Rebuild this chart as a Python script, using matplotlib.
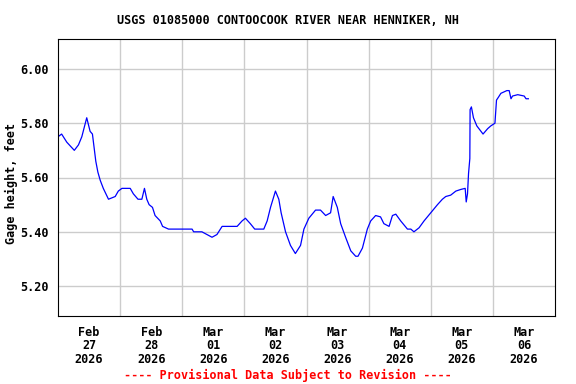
import matplotlib
matplotlib.use('Agg')
import matplotlib.pyplot as plt
from datetime import datetime, timedelta

# hours since Feb 27 2026 00:00 and gage height (ft)
hours = [0, 1.4, 3.4, 6.3, 7.9, 9.2, 11.1, 12.4, 13.3, 14.6, 15.4, 16.3, 17.5,
         19.5, 22.1, 23.3, 24.7, 27.9, 29.1, 30.9, 32.4, 33.4, 34.3, 35.2, 36.5,
         37.5, 39.5, 40.4, 42.7, 51.8, 52.4, 55.6, 59.5, 61.4, 63.4, 65.9, 69.2,
         71.1, 72.4, 74.3, 76.0, 79.5, 80.8, 82.1, 84.0, 85.3, 86.2, 87.9, 89.8,
         91.7, 93.7, 95.0, 96.9, 99.5, 101.4, 103.4, 105.3, 106.3, 107.9, 109.2,
         111.1, 113.1, 115.0, 115.9, 117.6, 119.5, 120.8, 122.7, 124.6, 125.9,
         127.9, 129.2, 130.5, 132.4, 135.0, 136.3, 137.5, 139.5, 141.4, 144.0,
         146.6, 148.5, 149.8, 151.7, 153.7, 155.6, 157.3, 157.7, 158.2, 158.6,
         159.1, 159.2, 159.7, 160.5, 161.8, 163.4, 164.2, 166.0, 167.2, 168.8,
         169.4, 170.1, 171.1, 173.4, 174.3, 175.0, 175.6, 177.6, 180.1, 180.8,
         181.7]
gage = [5.75, 5.76, 5.73, 5.70, 5.72, 5.75, 5.82, 5.77, 5.76, 5.66, 5.62, 5.59,
        5.56, 5.52, 5.53, 5.55, 5.56, 5.56, 5.54, 5.52, 5.52, 5.56, 5.52, 5.50,
        5.49, 5.46, 5.44, 5.42, 5.41, 5.41, 5.40, 5.40, 5.38, 5.39, 5.42, 5.42,
        5.42, 5.44, 5.45, 5.43, 5.41, 5.41, 5.44, 5.49, 5.55, 5.52, 5.47, 5.40,
        5.35, 5.32, 5.35, 5.41, 5.45, 5.48, 5.48, 5.46, 5.47, 5.53, 5.49, 5.43,
        5.38, 5.33, 5.31, 5.31, 5.34, 5.41, 5.44, 5.46, 5.455, 5.43, 5.42, 5.46,
        5.465, 5.44, 5.41, 5.41, 5.40, 5.415, 5.44, 5.47, 5.50, 5.52, 5.53,
        5.535, 5.55, 5.556, 5.56, 5.51, 5.54, 5.615, 5.67, 5.85, 5.86, 5.82,
        5.79, 5.77, 5.76, 5.78, 5.79, 5.80, 5.885, 5.895, 5.91, 5.92, 5.92,
        5.89, 5.90, 5.905, 5.90, 5.89, 5.89]

yticks = [5.20, 5.40, 5.60, 5.80, 6.00]
start = datetime(2026, 2, 27)
times = [start + timedelta(hours=h) for h in hours]

font = {'family': 'DejaVu Sans Mono', 'weight': 'bold', 'size': 8.5}

fig = plt.figure(figsize=(5.76, 3.84), dpi=100)
ax = fig.add_axes([58 / 576, 1 - 316 / 384, 497 / 576, 277 / 384])
ax.plot(times, gage, color='#0000ff', linewidth=0.9)

ax.set_xlim(start, start + timedelta(days=8))
ax.set_ylim(5.09, 6.11)

# gridlines at midnight, labels at noon
days = [start + timedelta(days=d) for d in range(9)]
ax.set_xticks(days[1:-1], minor=True)
ax.set_xticks([d + timedelta(hours=12) for d in days[:-1]])
ax.set_xticklabels([d.strftime('%b\n%d\n%Y') for d in days[:-1]],
                   linespacing=1.05, **font)
ax.set_yticks(yticks)
ax.set_yticklabels(['%.2f' % v for v in yticks], **font)
ax.tick_params(which='both', length=0, pad=7)
ax.grid(True, which='minor', axis='x', color='#cccccc', linewidth=1)
ax.grid(True, which='major', axis='y', color='#cccccc', linewidth=1)
ax.set_axisbelow(True)

ax.set_ylabel('Gage height, feet', **font)
ax.yaxis.set_label_coords(-0.08, 0.48)
fig.text(0.5, 1 - 20 / 384, 'USGS 01085000 CONTOOCOOK RIVER NEAR HENNIKER, NH',
         ha='center', va='center', **font)
fig.text(0.5, 1 - 375 / 384, '---- Provisional Data Subject to Revision ----',
         ha='center', va='center', color='red', **font)

fig.savefig('out.png', dpi=100)
